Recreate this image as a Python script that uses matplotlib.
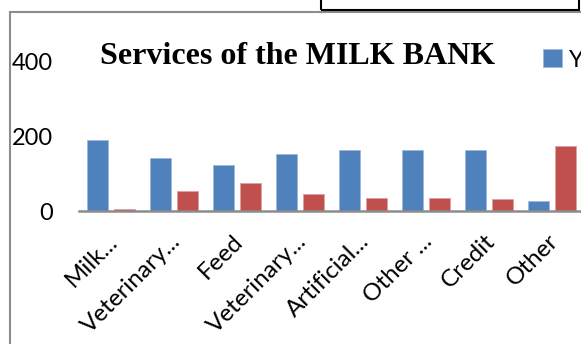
import matplotlib.pyplot as plt
from matplotlib.patches import Rectangle
import matplotlib.transforms as mtransforms
import numpy as np

# data
categories = ["Milk...", "Veterinary...", "Feed", "Veterinary...",
              "Artificial...", "Other ...", "Credit", "Other"]
yes_vals = [190, 141, 124, 154, 165, 163, 165, 26]
no_vals = [6, 55, 74, 45, 34, 34, 32, 174]
series_names = ["Yes", "No"]
yticks = [0, 200, 400]

W, H = 581, 344
fig = plt.figure(figsize=(W / 100, H / 100), dpi=100)

# plot area (pixel based)
left, right, top, bottom = 79, 583, 62, 211
ax = fig.add_axes([left / W, 1 - bottom / H, (right - left) / W, (bottom - top) / H])
ax.patch.set_alpha(0)

x = np.arange(len(categories))
w = 21 / 63
off = 27 / 63 / 2
blue = "#4F81BD"
red = "#C0504D"
b1 = ax.bar(x - off, yes_vals, w, color=blue, edgecolor="#9db8dc", linewidth=0.6, label=series_names[0])
b2 = ax.bar(x + off, no_vals, w, color=red, edgecolor="#e0a09e", linewidth=0.6, label=series_names[1])

ax.set_xlim(-0.5, len(categories) - 0.5)
ax.set_ylim(0, 400)
ax.set_yticks(yticks)
ax.set_yticklabels([str(v) for v in yticks], fontsize=17, family="Lato")
ax.tick_params(axis="y", length=0, pad=19)
ax.set_xticks(x)
ax.set_xticklabels(categories, rotation=45, ha="right", rotation_mode="anchor",
                   fontsize=17.5, family="Lato")
ax.tick_params(axis="x", length=0, pad=14)
shift = mtransforms.ScaledTranslation(-4 / 100, 0, fig.dpi_scale_trans)
for lab in ax.get_xticklabels():
    lab.set_transform(lab.get_transform() + shift)

for s in ("left", "right", "top"):
    ax.spines[s].set_visible(False)
ax.spines["bottom"].set_color("#8c8c8c")
ax.spines["bottom"].set_linewidth(1.8)

# title
fig.text(298 / W, 1 - 57 / H, "Services of the MILK BANK", ha="center", va="center",
         fontsize=23, fontweight="bold", family="Liberation Serif")

# legend, cut off at right edge like the reference
fig.legend(handles=[b1, b2], labels=series_names, loc="center left",
           bbox_to_anchor=(543 / W, 1 - 60 / H), ncol=2, frameon=False,
           prop={"family": "Lato", "size": 17}, handlelength=0.8,
           handleheight=0.8, handletextpad=0.3, borderaxespad=0, borderpad=0)

# chart frame and the box above it
fig.add_artist(Rectangle((9.5 / W, -0.2), 2.0, 1.2 - 12 / H, transform=fig.transFigure,
                         fill=False, edgecolor="#8c8c8c", linewidth=1.5))
fig.add_artist(Rectangle((321 / W, 1 - 10 / H), (579 - 321) / W, 0.2, transform=fig.transFigure,
                         fill=False, edgecolor="black", linewidth=1.5))

fig.savefig("out.png", dpi=100)
